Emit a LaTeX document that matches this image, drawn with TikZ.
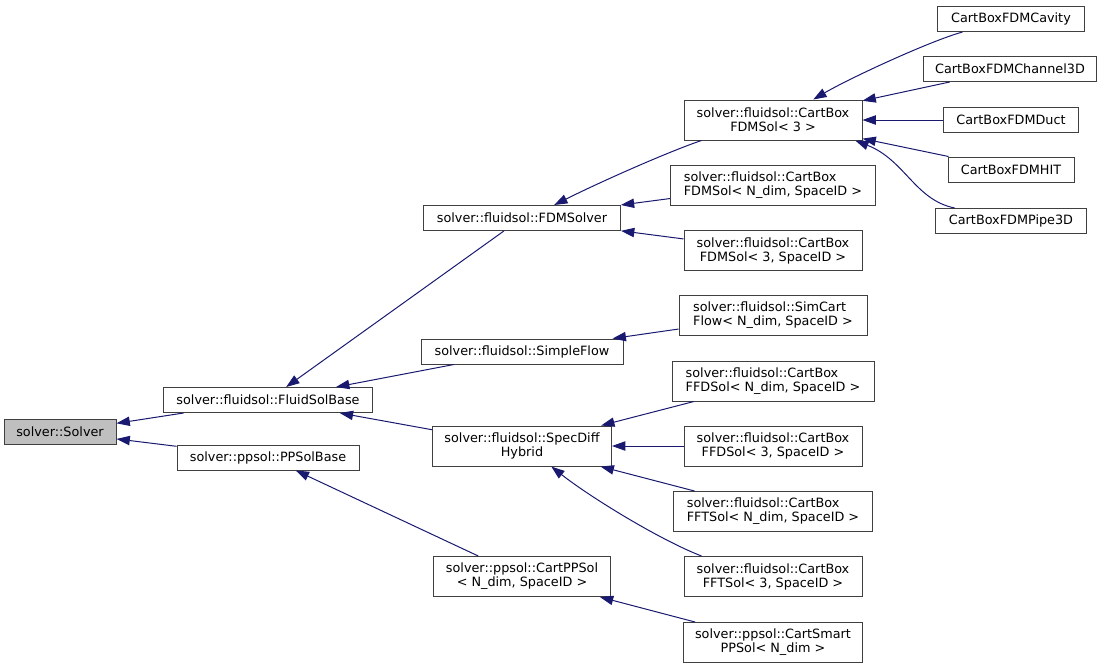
\documentclass[tikz,border=0pt]{standalone}
\usepackage{fontspec}
\setmainfont{DejaVu Sans}
\usetikzlibrary{arrows.meta}
\definecolor{edgeblue}{HTML}{191970}
\definecolor{boxline}{HTML}{404040}
\definecolor{basefill}{HTML}{BFBFBF}
\begin{document}
\begin{tikzpicture}[x=0.75pt,y=-0.75pt]
            \tikzstyle{cls}=[draw=boxline, fill=white, line width=0.75pt, inner sep=0pt, minimum height=18.75pt, align=center, font=\fontsize{9.6}{10.5}\selectfont]
            \tikzstyle{tall}=[cls, minimum height=30pt]
            \tikzstyle{inh}=[color=edgeblue, line width=0.75pt, -{Triangle[length=10pt,width=7pt]}]
            \useasboundingbox (0,0) rectangle (1104,669);
            \node[cls, fill=basefill, minimum width=84pt] (Solver) at (60,432) {solver::Solver};
            \node[cls, minimum width=156.75pt] (FluidSolBase) at (268,400) {solver::fluidsol::FluidSolBase};
            \node[cls, minimum width=136.5pt] (PPSolBase) at (268,457.5) {solver::ppsol::PPSolBase};
            \node[cls, minimum width=147.75pt] (FDMSolver) at (522,218) {solver::fluidsol::FDMSolver};
            \node[cls, minimum width=151.5pt] (SimpleFlow) at (522,351.5) {solver::fluidsol::SimpleFlow};
            \node[tall, minimum width=134.25pt] (SpecDiff) at (522,446) {solver::fluidsol::SpecDiff\\Hybrid};
            \node[tall, minimum width=132.75pt] (CartPPSol) at (522,576.5) {solver::ppsol::CartPPSol\\< N\_dim, SpaceID >};
            \node[tall, minimum width=133.5pt] (FDMSol3) at (773,120) {solver::fluidsol::CartBox\\FDMSol< 3 >};
            \node[tall, align=left, minimum width=153.75pt] (FDMSolN) at (773,185) {solver::fluidsol::CartBox\\FDMSol< N\_dim, SpaceID >};
            \node[tall, minimum width=133.5pt] (FDMSol3S) at (773,250.5) {solver::fluidsol::CartBox\\FDMSol< 3, SpaceID >};
            \node[tall, align=left, minimum width=141pt] (SimCart) at (773,315.5) {solver::fluidsol::SimCart\\Flow< N\_dim, SpaceID >};
            \node[tall, align=left, minimum width=151.5pt] (FFDSolN) at (773,381) {solver::fluidsol::CartBox\\FFDSol< N\_dim, SpaceID >};
            \node[tall, minimum width=133.5pt] (FFDSol3) at (773,446) {solver::fluidsol::CartBox\\FFDSol< 3, SpaceID >};
            \node[tall, align=left, minimum width=149.25pt] (FFTSolN) at (773,511.5) {solver::fluidsol::CartBox\\FFTSol< N\_dim, SpaceID >};
            \node[tall, minimum width=133.5pt] (FFTSol3) at (773,576.5) {solver::fluidsol::CartBox\\FFTSol< 3, SpaceID >};
            \node[tall, minimum width=134.25pt] (CartSmart) at (773,642.5) {solver::ppsol::CartSmart\\PPSol< N\_dim >};
            \node[cls, minimum width=110.25pt] (Cavity) at (1011,19) {CartBoxFDMCavity};
            \node[cls, minimum width=129.75pt] (Channel) at (1010,69) {CartBoxFDMChannel3D};
            \node[cls, minimum width=101.25pt] (Duct) at (1011,120) {CartBoxFDMDuct};
            \node[cls, minimum width=94.5pt] (HIT) at (1011,169.5) {CartBoxFDMHIT};
            \node[cls, minimum width=113.25pt] (Pipe) at (1011,221) {CartBoxFDMPipe3D};
            \path [inh] (FluidSolBase) edge[] (Solver);
            \path [inh] (PPSolBase) edge[] (Solver);
            \path [inh] (FDMSolver) edge[] (FluidSolBase);
            \path [inh] (SimpleFlow) edge[] (FluidSolBase);
            \path [inh] (SpecDiff) edge[] (FluidSolBase);
            \path [inh] (CartPPSol) edge[] (PPSolBase);
            \draw [inh] (FDMSol3.-164) .. controls (670,151) and (600,182) .. (FDMSolver.22);
            \path [inh] (FDMSolN) edge[] (FDMSolver);
            \path [inh] (FDMSol3S) edge[] (FDMSolver);
            \path [inh] (SimCart) edge[] (SimpleFlow);
            \path [inh] (FFDSolN) edge[] (SpecDiff);
            \path [inh] (FFDSol3) edge[] (SpecDiff);
            \path [inh] (FFTSolN) edge[] (SpecDiff);
            \draw [inh] (FFTSol3.164.7) .. controls (660,540) and (590,497) .. (SpecDiff.-35.5);
            \path [inh] (CartSmart) edge[] (CartPPSol);
            % subclasses of the 3d box solver
            \draw [inh] (Cavity.-165.6) .. controls (930,41) and (850,78) .. (FDMSol3.27);
            \path [inh] (Channel) edge[] (FDMSol3);
            \path [inh] (Duct) edge[] (FDMSol3);
            \path [inh] (HIT) edge[] (FDMSol3);
            \draw [inh] (Pipe.167.6) .. controls (915,200) and (905,160) .. (FDMSol3.-14);
\end{tikzpicture}
\end{document}
